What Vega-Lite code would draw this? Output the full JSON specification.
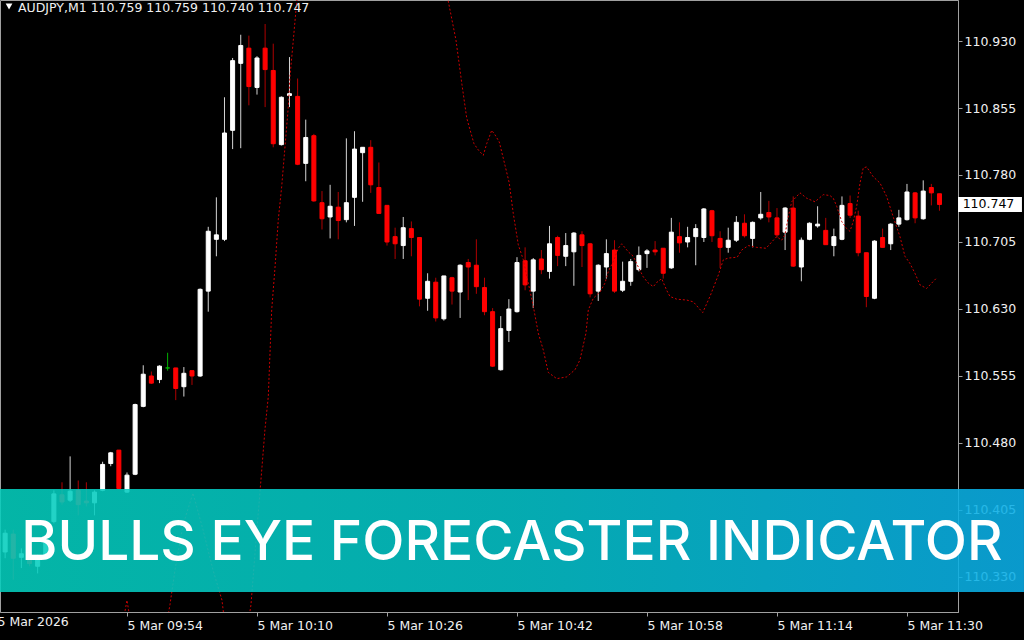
{
  "$schema": "https://vega.github.io/schema/vega-lite/v6.json",
  "width": 958,
  "height": 612,
  "autosize": {"type": "none"},
  "padding": {"left": 0, "top": 0, "right": 66, "bottom": 28},
  "background": "#000000",
  "config": {
    "view": {"stroke": "#a0a0a0", "strokeWidth": 1},
    "scale": {"continuousPadding": 0},
    "axis": {"zindex": 0, "grid": false, "title": null, "domainColor": "#a0a0a0", "tickColor": "#a0a0a0", "labelColor": "#f0f0f0", "labelFont": "DejaVu Sans", "labelFontSize": 12.5}
  },
  "datasets": {
    "candles": [
      {"m":1,"o":110.358,"h":110.383,"l":110.351,"c":110.379,"d":"u"},
      {"m":2,"o":110.378,"h":110.383,"l":110.327,"c":110.351,"d":"d"},
      {"m":3,"o":110.352,"h":110.362,"l":110.340,"c":110.356,"d":"u"},
      {"m":4,"o":110.355,"h":110.360,"l":110.342,"c":110.345,"d":"d"},
      {"m":5,"o":110.342,"h":110.355,"l":110.334,"c":110.350,"d":"u"},
      {"m":6,"o":110.351,"h":110.375,"l":110.349,"c":110.371,"d":"u"},
      {"m":7,"o":110.392,"h":110.427,"l":110.390,"c":110.423,"d":"u"},
      {"m":8,"o":110.422,"h":110.436,"l":110.411,"c":110.414,"d":"d"},
      {"m":9,"o":110.416,"h":110.465,"l":110.414,"c":110.426,"d":"u"},
      {"m":10,"o":110.427,"h":110.438,"l":110.399,"c":110.411,"d":"d"},
      {"m":11,"o":110.415,"h":110.436,"l":110.409,"c":110.413,"d":"d"},
      {"m":12,"o":110.413,"h":110.427,"l":110.399,"c":110.425,"d":"u"},
      {"m":13,"o":110.427,"h":110.459,"l":110.426,"c":110.456,"d":"u"},
      {"m":14,"o":110.457,"h":110.470,"l":110.454,"c":110.469,"d":"u"},
      {"m":15,"o":110.472,"h":110.472,"l":110.428,"c":110.429,"d":"d"},
      {"m":16,"o":110.425,"h":110.447,"l":110.424,"c":110.444,"d":"u"},
      {"m":17,"o":110.445,"h":110.524,"l":110.444,"c":110.523,"d":"u"},
      {"m":18,"o":110.521,"h":110.567,"l":110.520,"c":110.557,"d":"u"},
      {"m":19,"o":110.555,"h":110.560,"l":110.546,"c":110.547,"d":"d"},
      {"m":20,"o":110.551,"h":110.567,"l":110.547,"c":110.566,"d":"u"},
      {"m":21,"o":110.564,"h":110.581,"l":110.561,"c":110.564,"d":"f"},
      {"m":22,"o":110.564,"h":110.564,"l":110.528,"c":110.541,"d":"d"},
      {"m":23,"o":110.543,"h":110.565,"l":110.532,"c":110.558,"d":"u"},
      {"m":24,"o":110.561,"h":110.561,"l":110.545,"c":110.555,"d":"d"},
      {"m":25,"o":110.555,"h":110.653,"l":110.554,"c":110.652,"d":"u"},
      {"m":26,"o":110.650,"h":110.722,"l":110.627,"c":110.717,"d":"u"},
      {"m":27,"o":110.708,"h":110.755,"l":110.689,"c":110.713,"d":"u"},
      {"m":28,"o":110.708,"h":110.867,"l":110.706,"c":110.827,"d":"u"},
      {"m":29,"o":110.830,"h":110.911,"l":110.809,"c":110.908,"d":"u"},
      {"m":30,"o":110.905,"h":110.937,"l":110.810,"c":110.925,"d":"u"},
      {"m":31,"o":110.922,"h":110.936,"l":110.858,"c":110.879,"d":"d"},
      {"m":32,"o":110.878,"h":110.913,"l":110.870,"c":110.911,"d":"u"},
      {"m":33,"o":110.922,"h":110.949,"l":110.856,"c":110.898,"d":"d"},
      {"m":34,"o":110.897,"h":110.927,"l":110.811,"c":110.815,"d":"d"},
      {"m":35,"o":110.814,"h":110.868,"l":110.813,"c":110.867,"d":"u"},
      {"m":36,"o":110.869,"h":110.912,"l":110.856,"c":110.871,"d":"u"},
      {"m":37,"o":110.868,"h":110.888,"l":110.791,"c":110.792,"d":"d"},
      {"m":38,"o":110.793,"h":110.842,"l":110.773,"c":110.822,"d":"u"},
      {"m":39,"o":110.824,"h":110.826,"l":110.750,"c":110.751,"d":"d"},
      {"m":40,"o":110.749,"h":110.762,"l":110.719,"c":110.731,"d":"d"},
      {"m":41,"o":110.733,"h":110.769,"l":110.709,"c":110.745,"d":"u"},
      {"m":42,"o":110.744,"h":110.761,"l":110.708,"c":110.729,"d":"d"},
      {"m":43,"o":110.730,"h":110.821,"l":110.727,"c":110.749,"d":"u"},
      {"m":44,"o":110.755,"h":110.829,"l":110.723,"c":110.809,"d":"u"},
      {"m":45,"o":110.805,"h":110.811,"l":110.750,"c":110.811,"d":"u"},
      {"m":46,"o":110.811,"h":110.819,"l":110.760,"c":110.769,"d":"d"},
      {"m":47,"o":110.766,"h":110.794,"l":110.737,"c":110.737,"d":"d"},
      {"m":48,"o":110.746,"h":110.746,"l":110.701,"c":110.705,"d":"d"},
      {"m":49,"o":110.711,"h":110.721,"l":110.686,"c":110.703,"d":"d"},
      {"m":50,"o":110.701,"h":110.733,"l":110.686,"c":110.721,"d":"u"},
      {"m":51,"o":110.720,"h":110.728,"l":110.689,"c":110.710,"d":"d"},
      {"m":52,"o":110.710,"h":110.710,"l":110.633,"c":110.641,"d":"d"},
      {"m":53,"o":110.642,"h":110.670,"l":110.628,"c":110.661,"d":"u"},
      {"m":54,"o":110.660,"h":110.665,"l":110.616,"c":110.620,"d":"d"},
      {"m":55,"o":110.619,"h":110.667,"l":110.617,"c":110.667,"d":"u"},
      {"m":56,"o":110.665,"h":110.666,"l":110.635,"c":110.650,"d":"d"},
      {"m":57,"o":110.649,"h":110.680,"l":110.620,"c":110.679,"d":"u"},
      {"m":58,"o":110.682,"h":110.686,"l":110.640,"c":110.677,"d":"d"},
      {"m":59,"o":110.679,"h":110.708,"l":110.647,"c":110.655,"d":"d"},
      {"m":60,"o":110.654,"h":110.665,"l":110.623,"c":110.627,"d":"d"},
      {"m":61,"o":110.627,"h":110.631,"l":110.565,"c":110.566,"d":"d"},
      {"m":62,"o":110.562,"h":110.622,"l":110.561,"c":110.608,"d":"u"},
      {"m":63,"o":110.606,"h":110.641,"l":110.593,"c":110.630,"d":"u"},
      {"m":64,"o":110.627,"h":110.688,"l":110.626,"c":110.682,"d":"u"},
      {"m":65,"o":110.684,"h":110.699,"l":110.651,"c":110.657,"d":"d"},
      {"m":66,"o":110.650,"h":110.687,"l":110.631,"c":110.685,"d":"u"},
      {"m":67,"o":110.686,"h":110.696,"l":110.669,"c":110.674,"d":"d"},
      {"m":68,"o":110.672,"h":110.723,"l":110.664,"c":110.703,"d":"u"},
      {"m":69,"o":110.710,"h":110.712,"l":110.678,"c":110.690,"d":"d"},
      {"m":70,"o":110.689,"h":110.715,"l":110.678,"c":110.701,"d":"u"},
      {"m":71,"o":110.694,"h":110.716,"l":110.656,"c":110.715,"d":"u"},
      {"m":72,"o":110.713,"h":110.717,"l":110.677,"c":110.701,"d":"d"},
      {"m":73,"o":110.703,"h":110.704,"l":110.643,"c":110.647,"d":"d"},
      {"m":74,"o":110.650,"h":110.680,"l":110.639,"c":110.679,"d":"u"},
      {"m":75,"o":110.677,"h":110.708,"l":110.664,"c":110.692,"d":"u"},
      {"m":76,"o":110.696,"h":110.707,"l":110.648,"c":110.650,"d":"d"},
      {"m":77,"o":110.651,"h":110.683,"l":110.649,"c":110.661,"d":"u"},
      {"m":78,"o":110.661,"h":110.686,"l":110.656,"c":110.683,"d":"u"},
      {"m":79,"o":110.674,"h":110.700,"l":110.672,"c":110.690,"d":"u"},
      {"m":80,"o":110.692,"h":110.697,"l":110.676,"c":110.695,"d":"u"},
      {"m":81,"o":110.696,"h":110.706,"l":110.690,"c":110.694,"d":"d"},
      {"m":82,"o":110.698,"h":110.698,"l":110.664,"c":110.670,"d":"d"},
      {"m":83,"o":110.676,"h":110.732,"l":110.675,"c":110.716,"d":"u"},
      {"m":84,"o":110.711,"h":110.727,"l":110.693,"c":110.704,"d":"d"},
      {"m":85,"o":110.705,"h":110.722,"l":110.699,"c":110.710,"d":"u"},
      {"m":86,"o":110.711,"h":110.725,"l":110.679,"c":110.720,"d":"u"},
      {"m":87,"o":110.710,"h":110.743,"l":110.705,"c":110.742,"d":"u"},
      {"m":88,"o":110.740,"h":110.741,"l":110.705,"c":110.712,"d":"d"},
      {"m":89,"o":110.709,"h":110.717,"l":110.676,"c":110.699,"d":"d"},
      {"m":90,"o":110.699,"h":110.721,"l":110.693,"c":110.707,"d":"u"},
      {"m":91,"o":110.707,"h":110.734,"l":110.705,"c":110.727,"d":"u"},
      {"m":92,"o":110.726,"h":110.736,"l":110.710,"c":110.712,"d":"d"},
      {"m":93,"o":110.709,"h":110.728,"l":110.699,"c":110.727,"d":"u"},
      {"m":94,"o":110.732,"h":110.761,"l":110.730,"c":110.736,"d":"u"},
      {"m":95,"o":110.738,"h":110.751,"l":110.727,"c":110.733,"d":"d"},
      {"m":96,"o":110.732,"h":110.743,"l":110.710,"c":110.713,"d":"d"},
      {"m":97,"o":110.716,"h":110.744,"l":110.696,"c":110.743,"d":"u"},
      {"m":98,"o":110.743,"h":110.756,"l":110.677,"c":110.678,"d":"d"},
      {"m":99,"o":110.677,"h":110.710,"l":110.661,"c":110.707,"d":"u"},
      {"m":100,"o":110.708,"h":110.727,"l":110.707,"c":110.726,"d":"u"},
      {"m":101,"o":110.723,"h":110.745,"l":110.721,"c":110.725,"d":"u"},
      {"m":102,"o":110.718,"h":110.732,"l":110.702,"c":110.702,"d":"d"},
      {"m":103,"o":110.701,"h":110.720,"l":110.689,"c":110.711,"d":"u"},
      {"m":104,"o":110.708,"h":110.756,"l":110.707,"c":110.746,"d":"u"},
      {"m":105,"o":110.748,"h":110.757,"l":110.732,"c":110.735,"d":"d"},
      {"m":106,"o":110.734,"h":110.740,"l":110.689,"c":110.693,"d":"d"},
      {"m":107,"o":110.693,"h":110.693,"l":110.632,"c":110.644,"d":"d"},
      {"m":108,"o":110.642,"h":110.707,"l":110.641,"c":110.706,"d":"u"},
      {"m":109,"o":110.710,"h":110.720,"l":110.699,"c":110.699,"d":"d"},
      {"m":110,"o":110.703,"h":110.726,"l":110.696,"c":110.725,"d":"u"},
      {"m":111,"o":110.725,"h":110.741,"l":110.722,"c":110.732,"d":"u"},
      {"m":112,"o":110.730,"h":110.770,"l":110.729,"c":110.761,"d":"u"},
      {"m":113,"o":110.760,"h":110.761,"l":110.726,"c":110.732,"d":"d"},
      {"m":114,"o":110.731,"h":110.774,"l":110.730,"c":110.762,"d":"u"},
      {"m":115,"o":110.766,"h":110.770,"l":110.746,"c":110.760,"d":"d"},
      {"m":116,"o":110.759,"h":110.759,"l":110.740,"c":110.747,"d":"d"}
    ],
    "forecast": [
      {"m":14.89,"v":110.248},{"m":16.0,"v":110.304},{"m":16.98,"v":110.248},{"m":20.06,"v":110.237},
      {"m":21.29,"v":110.299},{"m":21.91,"v":110.338},{"m":22.89,"v":110.388},{"m":24.12,"v":110.424},
      {"m":25.35,"v":110.383},{"m":26.58,"v":110.338},{"m":27.69,"v":110.304},{"m":28.43,"v":110.248},
      {"m":30.40,"v":110.248},{"m":31.26,"v":110.299},{"m":31.88,"v":110.371},{"m":32.49,"v":110.439},
      {"m":32.98,"v":110.495},{"m":33.39,"v":110.532},{"m":33.81,"v":110.629},{"m":34.22,"v":110.677},
      {"m":34.62,"v":110.730},{"m":35.04,"v":110.767},{"m":35.45,"v":110.812},{"m":35.85,"v":110.856},
      {"m":36.06,"v":110.890},{"m":36.47,"v":110.931},{"m":36.80,"v":110.965},{"m":37.29,"v":111.010},
      {"m":55.14,"v":111.010},{"m":55.51,"v":110.976},{"m":56.49,"v":110.931},{"m":57.23,"v":110.881},
      {"m":57.81,"v":110.844},{"m":58.30,"v":110.828},{"m":58.71,"v":110.815},{"m":59.24,"v":110.808},
      {"m":59.85,"v":110.802},{"m":60.27,"v":110.815},{"m":60.89,"v":110.830},{"m":61.29,"v":110.825},
      {"m":61.82,"v":110.817},{"m":62.52,"v":110.791},{"m":63.05,"v":110.771},{"m":63.54,"v":110.737},
      {"m":64.16,"v":110.702},{"m":64.78,"v":110.685},{"m":65.39,"v":110.659},{"m":66.01,"v":110.633},
      {"m":66.62,"v":110.603},{"m":67.24,"v":110.584},{"m":67.85,"v":110.559},{"m":68.89,"v":110.552},
      {"m":70.12,"v":110.554},{"m":71.14,"v":110.562},{"m":71.75,"v":110.573},{"m":72.49,"v":110.603},
      {"m":72.78,"v":110.629},{"m":73.39,"v":110.642},{"m":74.22,"v":110.649},{"m":74.83,"v":110.659},
      {"m":75.24,"v":110.672},{"m":75.85,"v":110.683},{"m":76.47,"v":110.698},{"m":76.89,"v":110.703},
      {"m":77.70,"v":110.694},{"m":78.31,"v":110.689},{"m":78.93,"v":110.677},{"m":79.54,"v":110.666},
      {"m":80.16,"v":110.659},{"m":80.78,"v":110.655},{"m":81.23,"v":110.660},{"m":81.81,"v":110.664},
      {"m":82.42,"v":110.651},{"m":82.83,"v":110.644},{"m":83.66,"v":110.641},{"m":84.89,"v":110.640},
      {"m":85.70,"v":110.638},{"m":86.86,"v":110.626},{"m":87.75,"v":110.644},{"m":88.78,"v":110.668},
      {"m":89.39,"v":110.685},{"m":90.01,"v":110.687},{"m":91.11,"v":110.688},{"m":91.66,"v":110.696},
      {"m":92.47,"v":110.701},{"m":93.50,"v":110.699},{"m":94.65,"v":110.698},{"m":95.35,"v":110.705},
      {"m":95.96,"v":110.711},{"m":96.58,"v":110.707},{"m":96.98,"v":110.713},{"m":97.39,"v":110.733},
      {"m":97.81,"v":110.750},{"m":98.83,"v":110.760},{"m":99.66,"v":110.754},{"m":100.68,"v":110.750},
      {"m":101.70,"v":110.758},{"m":102.52,"v":110.757},{"m":102.93,"v":110.754},{"m":103.35,"v":110.745},
      {"m":103.96,"v":110.728},{"m":104.58,"v":110.720},{"m":104.98,"v":110.717},{"m":105.39,"v":110.728},
      {"m":105.81,"v":110.745},{"m":106.22,"v":110.771},{"m":106.62,"v":110.788},{"m":107.04,"v":110.789},
      {"m":107.85,"v":110.778},{"m":108.68,"v":110.771},{"m":109.50,"v":110.756},{"m":110.31,"v":110.733},
      {"m":111.14,"v":110.711},{"m":111.75,"v":110.689},{"m":112.37,"v":110.681},{"m":112.98,"v":110.670},
      {"m":113.60,"v":110.657},{"m":114.42,"v":110.653},{"m":115.04,"v":110.659},{"m":115.57,"v":110.664}
    ]
  },
  "layer": [
    {
      "data": {"name": "candles"},
      "mark": {"type": "rule", "strokeWidth": 1},
      "encoding": {
        "x": {"field": "m", "type": "quantitative",
          "scale": {"domain": [0.369, 118.28], "nice": false, "zero": false, "padding": 0},
          "axis": {"values": [0.369, 16, 32, 48, 64, 80, 96, 112],
            "labelExpr": "['5 Mar 2026','5 Mar 09:54','5 Mar 10:10','5 Mar 10:26','5 Mar 10:42','5 Mar 10:58','5 Mar 11:14','5 Mar 11:30'][round(datum.value/16)]",
            "labelAlign": "left", "labelBaseline": "top", "labelPadding": 3,
            "tickSize": {"condition": {"test": "datum.value < 1", "value": 0}, "value": 4},
            "labelOffset": {"condition": {"test": "datum.value < 1", "value": -3}, "value": 0},
            "labelFlush": false, "labelOverlap": false, "labelBound": false}},
        "y": {"field": "l", "type": "quantitative",
          "scale": {"domain": [110.2908, 110.9759], "nice": false, "zero": false, "padding": 0},
          "axis": {"orient": "right", "values": [110.330, 110.405, 110.480, 110.555, 110.630, 110.705, 110.780, 110.855, 110.930],
            "format": ".3f", "tickSize": 4, "labelPadding": 2, "labelAlign": "left", "labelBaseline": "middle", "labelOverlap": false, "labelBound": false, "labelFlush": false}},
        "y2": {"field": "h"},
        "color": {"field": "d", "type": "nominal", "legend": null,
          "scale": {"domain": ["u", "d", "f"], "range": ["#d4d4d4", "#b00000", "#00b000"]}}
      }
    },
    {
      "data": {"name": "candles"},
      "mark": {"type": "bar", "size": 4, "strokeWidth": 1},
      "encoding": {
        "x": {"field": "m", "type": "quantitative"},
        "y": {"field": "o", "type": "quantitative"},
        "y2": {"field": "c"},
        "fill": {"field": "d", "type": "nominal", "legend": null,
          "scale": {"domain": ["u", "d", "f"], "range": ["#ffffff", "#ff0000", "#00b000"]}},
        "stroke": {"field": "d", "type": "nominal", "legend": null,
          "scale": {"domain": ["u", "d", "f"], "range": ["#ffffff", "#ff0000", "#00b000"]}}
      }
    },
    {
      "data": {"name": "forecast"},
      "mark": {"type": "line", "color": "#cc0000", "strokeWidth": 1, "strokeDash": [2, 2], "clip": true},
      "encoding": {
        "x": {"field": "m", "type": "quantitative"},
        "y": {"field": "v", "type": "quantitative"}
      }
    },
    {
      "data": {"values": [{"label": "110.747"}]},
      "mark": {"type": "rect", "fill": "#ffffff"},
      "encoding": {
        "x": {"datum": 118.28, "type": "quantitative"},
        "x2": {"datum": 126.15},
        "y": {"datum": 110.7554, "type": "quantitative"},
        "y2": {"datum": 110.7386}
      }
    },
    {
      "data": {"values": [{"label": "110.747"}]},
      "mark": {"type": "text", "align": "left", "baseline": "middle", "font": "DejaVu Sans", "fontSize": 12.5, "color": "#000000"},
      "encoding": {
        "x": {"datum": 118.85, "type": "quantitative"},
        "y": {"datum": 110.747, "type": "quantitative"},
        "text": {"field": "label"}
      }
    },
    {
      "data": {"values": [{"s": "triangle-down"}]},
      "mark": {"type": "point", "shape": "triangle-down", "filled": true, "color": "#ffffff", "size": 45, "opacity": 1},
      "encoding": {
        "x": {"datum": 1.48, "type": "quantitative"},
        "y": {"datum": 110.9686, "type": "quantitative"}
      }
    },
    {
      "data": {"values": [{"label": "AUDJPY,M1  110.759 110.759 110.740 110.747"}]},
      "mark": {"type": "text", "align": "left", "baseline": "alphabetic", "font": "DejaVu Sans", "fontSize": 12.5, "color": "#f0f0f0"},
      "encoding": {
        "x": {"datum": 2.59, "type": "quantitative"},
        "y": {"datum": 110.9625, "type": "quantitative"},
        "text": {"field": "label"}
      }
    },
    {
      "data": {"values": [{"label": "banner"}]},
      "mark": {"type": "rect", "opacity": 0.88,
        "color": {"gradient": "linear", "x1": 0, "y1": 0, "x2": 1, "y2": 0,
          "stops": [{"offset": 0, "color": "#04CEBD"}, {"offset": 0.5, "color": "#05C2C8"}, {"offset": 1, "color": "#0BAEE8"}]}},
      "encoding": {
        "x": {"datum": 0.369, "type": "quantitative"},
        "x2": {"datum": 126.4},
        "y": {"datum": 110.4285, "type": "quantitative"},
        "y2": {"datum": 110.3132}
      }
    },
    {
      "data": {"values": [{"label": "BULLS EYE FORECASTER INDICATOR"}]},
      "mark": {"type": "text", "align": "center", "baseline": "alphabetic", "font": "Inter", "fontSize": 55, "fontWeight": 500, "color": "#ffffff"},
      "encoding": {
        "x": {"datum": 63.38, "type": "quantitative"},
        "y": {"datum": 110.349, "type": "quantitative"},
        "text": {"field": "label"}
      }
    }
  ]
}
